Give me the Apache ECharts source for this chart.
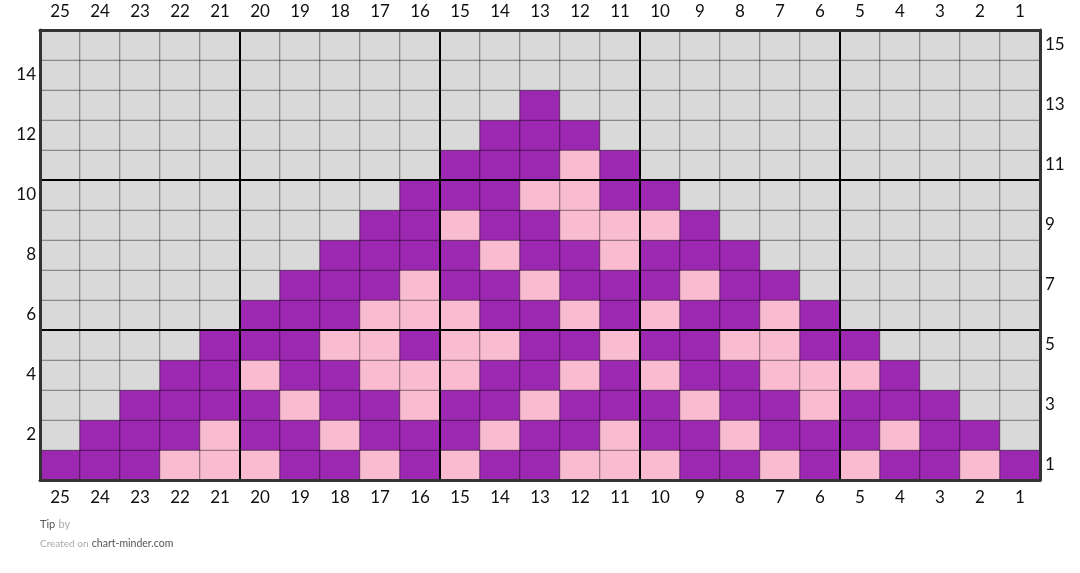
<!DOCTYPE html>
<html>
<head>
<meta charset="utf-8">
<script src="https://cdn.jsdelivr.net/npm/echarts@6/dist/echarts.min.js"></script>
<style>
  html, body { margin: 0; padding: 0; background: #fff; }
  #chart { width: 1080px; height: 573px; }
</style>
</head>
<body>
<div id="chart"></div>
<script>
// stitch numbers, left to right
const columns = ['25','24','23','22','21','20','19','18','17','16','15','14','13','12','11','10','9','8','7','6','5','4','3','2','1']
// row numbers, bottom to top
const rows = ['1','2','3','4','5','6','7','8','9','10','11','12','13','14','15']
// G = background, P = purple, K = pink; each string is one row read left to right, row 1 first
const rowPatterns = [
  'PPPKKKPPKPKPPKKKPPKPKPPKP',
  'GPPPKPPKPPPKPPKPPKPPPKPPG',
  'GGPPPPKPPKPPKPPPKPPKPPPGG',
  'GGGPPKPPKKKPPKPKPPKKKPGGG',
  'GGGGPPPKKPKKPPKPPKKPPGGGG',
  'GGGGGPPPKKKPPKPKPPKPGGGGG',
  'GGGGGGPPPKPPKPPPKPPGGGGGG',
  'GGGGGGGPPPPKPPKPPPGGGGGGG',
  'GGGGGGGGPPKPPKKKPGGGGGGGG',
  'GGGGGGGGGPPPKKPPGGGGGGGGG',
  'GGGGGGGGGGPPPKPGGGGGGGGGG',
  'GGGGGGGGGGGPPPGGGGGGGGGGG',
  'GGGGGGGGGGGGPGGGGGGGGGGGG',
  'GGGGGGGGGGGGGGGGGGGGGGGGG',
  'GGGGGGGGGGGGGGGGGGGGGGGGG'
]
const colorCodes = { G: 0, P: 1, K: 2 }

const cells = []
rowPatterns.forEach((pattern, r) => {
  pattern.split('').forEach((ch, c) => {
    cells.push([c, r, colorCodes[ch]])
  })
})

const labelFont = { color: '#111', fontSize: 17, fontFamily: 'Lato' }
const every5 = (index) => index % 5 === 0

const chart = echarts.init(document.getElementById('chart'))
chart.setOption({
  animation: false,
  grid: { left: 40, right: 40, top: 30, bottom: 93 },
  xAxis: [
    {
      type: 'category', data: columns, position: 'bottom', z: 5,
      axisTick: { show: false },
      axisLine: { lineStyle: { color: '#333', width: 3 } },
      axisLabel: { ...labelFont, margin: 9, interval: 0 },
      splitLine: { show: true, interval: every5, lineStyle: { color: '#000', width: 2 } }
    },
    {
      type: 'category', data: columns, position: 'top', z: 5,
      axisTick: { show: false },
      axisLine: { lineStyle: { color: '#333', width: 3 } },
      axisLabel: { ...labelFont, margin: 10, interval: 0 },
      splitLine: { show: false }
    }
  ],
  yAxis: [
    {
      type: 'category', data: rows, position: 'left', z: 5,
      axisTick: { show: false },
      axisLine: { lineStyle: { color: '#333', width: 3 } },
      axisLabel: { ...labelFont, margin: 4, interval: (i, v) => Number(v) % 2 === 0 },
      splitLine: { show: true, interval: every5, lineStyle: { color: '#000', width: 2 } }
    },
    {
      type: 'category', data: rows, position: 'right', z: 5,
      axisTick: { show: false },
      axisLine: { lineStyle: { color: '#333', width: 3 } },
      axisLabel: { ...labelFont, margin: 5, interval: (i, v) => Number(v) % 2 === 1 },
      splitLine: { show: false }
    }
  ],
  visualMap: {
    show: false,
    type: 'piecewise',
    dimension: 2,
    pieces: [
      { value: 0, color: '#d9d9d9' },
      { value: 1, color: '#9c27b0' },
      { value: 2, color: '#f8bbd0' }
    ]
  },
  series: [
    {
      type: 'heatmap',
      data: cells,
      itemStyle: { borderColor: 'rgba(0,0,0,0.42)', borderWidth: 1 },
      emphasis: { disabled: true }
    }
  ],
  graphic: [
    {
      type: 'text', left: 40, top: 518,
      style: {
        text: '{b|Tip} {l|by}',
        rich: {
          b: { fontFamily: 'Lato', fontSize: 11, fill: '#555' },
          l: { fontFamily: 'Lato', fontSize: 11, fill: '#aaa' }
        }
      }
    },
    {
      type: 'text', left: 40, top: 538,
      style: {
        text: '{l|Created on} {b|chart-minder.com}',
        rich: {
          l: { fontFamily: 'Lato', fontSize: 10, fill: '#aaa' },
          b: { fontFamily: 'Lato', fontSize: 10.5, fill: '#555' }
        }
      }
    }
  ]
})
</script>
</body>
</html>
